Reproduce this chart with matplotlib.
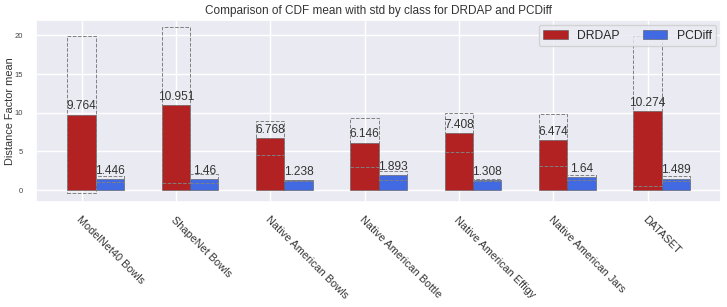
import numpy as np
import matplotlib
matplotlib.use('Agg')
import matplotlib.pyplot as plt
import seaborn as sns

# datos
classes = ['ModelNet40 Bowls', 'ShapeNet Bowls', 'Native American Bowls', 'Native American Bottle',
           'Native American Effigy', 'Native American Jars', 'DATASET']
drdap_mean = [9.764, 10.951, 6.768, 6.146, 7.408, 6.474, 10.274]
drdap_std = [10.2, 10.1, 2.2, 3.15, 2.5, 3.35, 9.7]
pcdiff_mean = [1.446, 1.46, 1.238, 1.893, 1.308, 1.64, 1.489]
pcdiff_std = [0.4, 0.55, 0.1, 0.6, 0.15, 0.3, 0.35]

sns.set_theme(style='darkgrid')
plt.rcParams['font.family'] = ['Liberation Sans', 'DejaVu Sans']

fig, ax = plt.subplots(figsize=(7.27, 3.07), dpi=100)
x = np.arange(len(classes))
w = 0.3

b1 = ax.bar(x, drdap_mean, w, color='firebrick', edgecolor='#555555', linewidth=0.4, label='DRDAP')
b2 = ax.bar(x + w, pcdiff_mean, w, color='royalblue', edgecolor='#555555', linewidth=0.4, label='PCDiff')

# rectangulos de desviacion estandar
ax.bar(x, 2 * np.array(drdap_std), w, bottom=np.array(drdap_mean) - np.array(drdap_std),
       fill=False, edgecolor='gray', linestyle='--', linewidth=0.7)
ax.bar(x + w, 2 * np.array(pcdiff_std), w, bottom=np.array(pcdiff_mean) - np.array(pcdiff_std),
       fill=False, edgecolor='gray', linestyle='--', linewidth=0.7)

ax.bar_label(b1, labels=[f'{v:g}' for v in drdap_mean], padding=1.5, fontsize=8.6, color='#333333')
ax.bar_label(b2, labels=[f'{v:g}' for v in pcdiff_mean], padding=1.5, fontsize=8.6, color='#333333')

ax.set_ylim(-1.55, 22.0)
ax.set_xticks(x)
ax.set_xticklabels(classes, rotation=-45, ha='left', rotation_mode='anchor', fontsize=7.8, color='#333333')
ax.tick_params(axis='x', pad=3)
ax.tick_params(axis='y', labelsize=5.5, colors='#444444')
ax.set_ylabel('Distance Factor mean', fontsize=7.9, color='#333333')
ax.yaxis.set_label_coords(-0.031, 0.5)
ax.set_title('Comparison of CDF mean with std by class for DRDAP and PCDiff', fontsize=8.5, color='#333333', pad=4)
ax.legend(loc='upper right', ncol=2, fontsize=8.7, handlelength=2, columnspacing=1.9, borderaxespad=0.4)

plt.subplots_adjust(left=0.05, right=0.992, top=0.935, bottom=0.342)
plt.savefig('out.png')
plt.close()
